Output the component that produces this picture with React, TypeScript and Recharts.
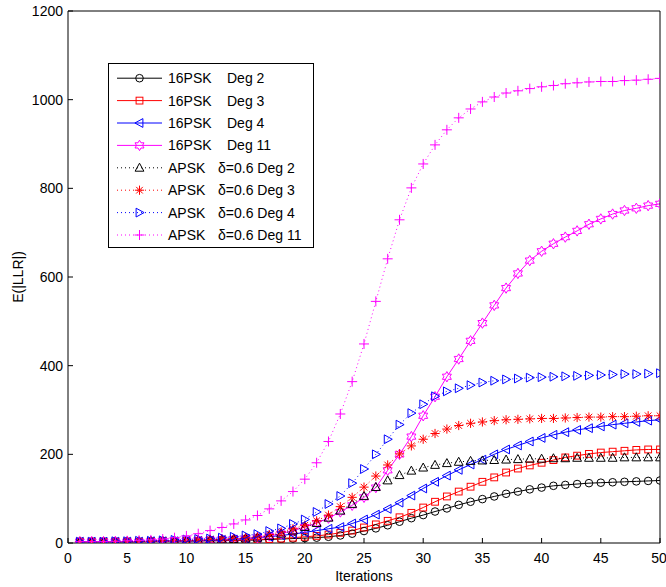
import React from 'react';
import { LineChart, Line, XAxis, YAxis, Legend } from 'recharts';

const FONT = '"Liberation Sans", Arial, Helvetica, sans-serif';

const ITERATIONS = [
  1, 2, 3, 4, 5, 6, 7, 8, 9, 10, 11, 12, 13, 14, 15, 16, 17, 18, 19, 20, 21, 22, 23, 24, 25,
  26, 27, 28, 29, 30, 31, 32, 33, 34, 35, 36, 37, 38, 39, 40, 41, 42, 43, 44, 45, 46, 47, 48, 49, 50,
];
const X_TICKS = [0, 5, 10, 15, 20, 25, 30, 35, 40, 45, 50];
const Y_TICKS = [0, 200, 400, 600, 800, 1000, 1200];

const PSK_DEG2 = [
  3, 3, 3, 3, 3, 3, 3, 4, 4, 4, 5, 5, 5, 6, 6, 7, 8, 9, 10, 11, 12, 14, 17, 21, 27,
  33, 40, 48, 56, 63, 71, 78, 86, 93, 99, 105, 111, 116, 121, 125, 129, 131, 133, 135, 136, 137, 138, 139, 140, 141,
];
const PSK_DEG3 = [
  3, 3, 3, 3, 3, 3, 4, 4, 4, 5, 5, 5, 6, 6, 7, 8, 9, 10, 12, 14, 16, 19, 23, 28, 35,
  42, 50, 58, 68, 80, 93, 105, 116, 127, 138, 148, 159, 168, 175, 181, 187, 193, 197, 201, 204, 206, 208, 210, 211, 211,
];
const PSK_DEG4 = [
  3, 3, 3, 3, 3, 3, 4, 4, 4, 5, 5, 6, 7, 8, 10, 12, 14, 17, 20, 24, 28, 32, 36, 44, 53,
  64, 77, 91, 107, 123, 138, 152, 165, 177, 188, 200, 211, 220, 229, 237, 244, 250, 255, 259, 263, 267, 270, 273, 276, 278,
];
const PSK_DEG11 = [
  3, 3, 3, 3, 3, 3, 4, 4, 4, 5, 6, 7, 8, 9, 10, 12, 16, 21, 28, 36, 45, 56, 70, 85, 103,
  125, 164, 200, 240, 287, 330, 375, 415, 456, 496, 536, 575, 608, 637, 658, 675, 690, 704, 719, 731, 742, 750, 755, 761, 765,
];
const APSK_DEG2 = [
  3, 3, 3, 3, 3, 3, 4, 4, 5, 5, 6, 7, 8, 9, 10, 12, 16, 21, 28, 36, 45, 57, 73, 88, 106,
  126, 141, 153, 163, 170, 176, 180, 183, 185, 186, 187, 188, 189, 190, 190, 191, 191, 192, 192, 192, 192, 193, 193, 193, 193,
];
const APSK_DEG3 = [
  3, 3, 3, 3, 4, 4, 4, 5, 5, 6, 7, 8, 9, 10, 12, 14, 19, 25, 32, 40, 50, 63, 82, 103, 126,
  151, 176, 201, 219, 234, 247, 257, 265, 270, 273, 276, 278, 279, 280, 281, 281, 282, 283, 284, 284, 285, 285, 286, 287, 287,
];
const APSK_DEG4 = [
  3, 3, 3, 4, 4, 5, 5, 6, 7, 8, 9, 10, 12, 14, 17, 20, 27, 33, 43, 53, 70, 88, 106, 135, 167,
  200, 234, 267, 293, 313, 331, 342, 349, 356, 362, 366, 369, 371, 373, 374, 375, 376, 377, 378, 379, 380, 381, 381, 382, 383,
];
const APSK_DEG11 = [
  3, 3, 3, 4, 5, 6, 7, 9, 12, 16, 21, 28, 35, 43, 52, 62, 77, 95, 116, 144, 181, 229, 291, 364, 449,
  545, 641, 729, 801, 855, 898, 932, 959, 979, 995, 1006, 1015, 1020, 1025, 1029, 1032, 1036, 1038, 1040, 1041, 1041, 1043, 1044, 1046, 1048,
];

const SERIES_VALUES = [PSK_DEG2, PSK_DEG3, PSK_DEG4, PSK_DEG11, APSK_DEG2, APSK_DEG3, APSK_DEG4, APSK_DEG11];
const SERIES_LABEL_A = ['16PSK', '16PSK', '16PSK', '16PSK', 'APSK', 'APSK', 'APSK', 'APSK'];
const SERIES_LABEL_B = ['Deg 2', 'Deg 3', 'Deg 4', 'Deg 11', 'δ=0.6 Deg 2', 'δ=0.6 Deg 3', 'δ=0.6 Deg 4', 'δ=0.6 Deg 11'];
const SERIES_COLORS = ['#000000', '#ff0000', '#0000ff', '#ff00ff', '#000000', '#ff0000', '#0000ff', '#ff00ff'];
const SERIES_MARKERS = ['circle', 'square', 'triLeft', 'hexagram', 'triUp', 'asterisk', 'triRight', 'plus'];
const SERIES_DOTTED = [false, false, false, false, true, true, true, true];

const KEYS = SERIES_VALUES.map((_, i) => 's' + i);
const DATA = ITERATIONS.map((it, idx) => {
  const row: any = { it };
  SERIES_VALUES.forEach((arr, i) => {
    row[KEYS[i]] = arr[idx];
  });
  return row;
});

function Marker({ type, cx, cy, color }: { type: string; cx: number; cy: number; color: string }) {
  const common = { fill: 'none', stroke: color, strokeWidth: 1 };
  switch (type) {
    case 'circle':
      return <circle cx={cx} cy={cy} r={3.8} {...common} />;
    case 'square':
      return <rect x={cx - 3.4} y={cy - 3.4} width={6.8} height={6.8} {...common} />;
    case 'triUp':
      return <polygon points={`${cx},${cy - 4.6} ${cx + 4.4},${cy + 3.4} ${cx - 4.4},${cy + 3.4}`} {...common} />;
    case 'triLeft':
      return <polygon points={`${cx - 4.6},${cy} ${cx + 3.4},${cy - 4.4} ${cx + 3.4},${cy + 4.4}`} {...common} />;
    case 'triRight':
      return <polygon points={`${cx + 4.6},${cy} ${cx - 3.4},${cy - 4.4} ${cx - 3.4},${cy + 4.4}`} {...common} />;
    case 'hexagram': {
      const pts: string[] = [];
      for (let k = 0; k < 12; k++) {
        const ang = (-90 + k * 30) * (Math.PI / 180);
        const r = k % 2 === 0 ? 5.2 : 3.0;
        pts.push(`${cx + r * Math.cos(ang)},${cy + r * Math.sin(ang)}`);
      }
      return <polygon points={pts.join(' ')} {...common} />;
    }
    case 'asterisk':
      return (
        <g {...common}>
          <line x1={cx - 4.6} y1={cy} x2={cx + 4.6} y2={cy} />
          <line x1={cx} y1={cy - 4.6} x2={cx} y2={cy + 4.6} />
          <line x1={cx - 3.3} y1={cy - 3.3} x2={cx + 3.3} y2={cy + 3.3} />
          <line x1={cx - 3.3} y1={cy + 3.3} x2={cx + 3.3} y2={cy - 3.3} />
        </g>
      );
    case 'plus':
      return (
        <g {...common}>
          <line x1={cx - 5} y1={cy} x2={cx + 5} y2={cy} />
          <line x1={cx} y1={cy - 5} x2={cx} y2={cy + 5} />
        </g>
      );
    default:
      return null;
  }
}

const makeDot = (type: string, color: string) => (props: any) => {
  const { cx, cy, index } = props;
  if (cx == null || cy == null) return <g key={`d-${index}`} />;
  return (
    <g key={`d-${index}`}>
      <Marker type={type} cx={cx} cy={cy} color={color} />
    </g>
  );
};

const LEG_W = 206;
const LEG_H = 185;

function LegendBox() {
  return (
    <svg width={LEG_W} height={LEG_H} style={{ display: 'block' }}>
      <rect x={0.5} y={0.5} width={LEG_W - 1} height={LEG_H - 1} fill="#ffffff" stroke="#000000" strokeWidth={1} />
      {KEYS.map((k, i) => {
        const y = 15.2 + i * 22.4;
        const color = SERIES_COLORS[i];
        return (
          <g key={k}>
            <line
              x1={9}
              y1={y}
              x2={54}
              y2={y}
              stroke={color}
              strokeWidth={1}
              strokeDasharray={SERIES_DOTTED[i] ? '1 3' : undefined}
            />
            <Marker type={SERIES_MARKERS[i]} cx={31.5} cy={y} color={color} />
            <text x={60} y={y} dy="0.36em" fontSize={14} fontFamily={FONT} fill="#000">
              {SERIES_LABEL_A[i]}
            </text>
            <text x={i < 4 ? 119 : 110} y={y} dy="0.36em" fontSize={14} fontFamily={FONT} fill="#000">
              {SERIES_LABEL_B[i]}
            </text>
          </g>
        );
      })}
    </svg>
  );
}

const tickStyle = { fill: '#000000', fontSize: 14, fontFamily: FONT };

export default function App() {
  return (
    <div style={{ position: 'absolute', left: 0, top: 0, width: 666, height: 587, background: '#fff' }}>
      <LineChart width={666} height={587} data={DATA} margin={{ top: 0, right: 0, bottom: 0, left: 0 }}>
        <XAxis
          xAxisId="b"
          dataKey="it"
          type="number"
          domain={[0, 50]}
          ticks={X_TICKS}
          allowDataOverflow
          height={44}
          tickSize={-5}
          tickMargin={15}
          tick={tickStyle}
          stroke="#000"
          tickLine={{ stroke: '#000' }}
          axisLine={{ stroke: '#000' }}
          label={{
            content: () => (
              <text x={364} y={576} textAnchor="middle" dominantBaseline="central" fontSize={14} fontFamily={FONT} fill="#000">
                Iterations
              </text>
            ),
          }}
        />
        <XAxis
          xAxisId="t"
          orientation="top"
          dataKey="it"
          type="number"
          domain={[0, 50]}
          ticks={X_TICKS}
          allowDataOverflow
          height={11}
          tickSize={-5}
          tick={false}
          tickLine={{ stroke: '#000' }}
          axisLine={{ stroke: '#000' }}
        />
        <YAxis
          yAxisId="l"
          type="number"
          domain={[0, 1200]}
          ticks={Y_TICKS}
          allowDataOverflow
          width={68}
          tickSize={-5}
          tickMargin={10}
          tick={tickStyle}
          tickLine={{ stroke: '#000' }}
          axisLine={{ stroke: '#000' }}
          label={{
            content: () => (
              <text
                x={18}
                y={277}
                transform="rotate(-90 18 277)"
                textAnchor="middle"
                dominantBaseline="central"
                fontSize={14}
                fontFamily={FONT}
                fill="#000"
              >
                E(|LLR|)
              </text>
            ),
          }}
        />
        <YAxis
          yAxisId="r"
          orientation="right"
          type="number"
          domain={[0, 1200]}
          ticks={Y_TICKS}
          allowDataOverflow
          width={6}
          tickSize={-5}
          tick={false}
          tickLine={{ stroke: '#000' }}
          axisLine={{ stroke: '#000' }}
        />
        <Legend
          layout="vertical"
          align="center"
          verticalAlign="middle"
          wrapperStyle={{ position: 'absolute', left: 108, top: 63, width: LEG_W, height: LEG_H }}
          content={() => <LegendBox />}
        />
        {KEYS.map((k, i) => (
          <Line
            key={k}
            xAxisId="b"
            yAxisId="l"
            type="linear"
            dataKey={k}
            name={SERIES_LABEL_A[i] + ' ' + SERIES_LABEL_B[i]}
            stroke={SERIES_COLORS[i]}
            strokeWidth={1}
            strokeDasharray={SERIES_DOTTED[i] ? '1 3' : undefined}
            dot={makeDot(SERIES_MARKERS[i], SERIES_COLORS[i])}
            activeDot={false}
            isAnimationActive={false}
          />
        ))}
      </LineChart>
    </div>
  );
}
